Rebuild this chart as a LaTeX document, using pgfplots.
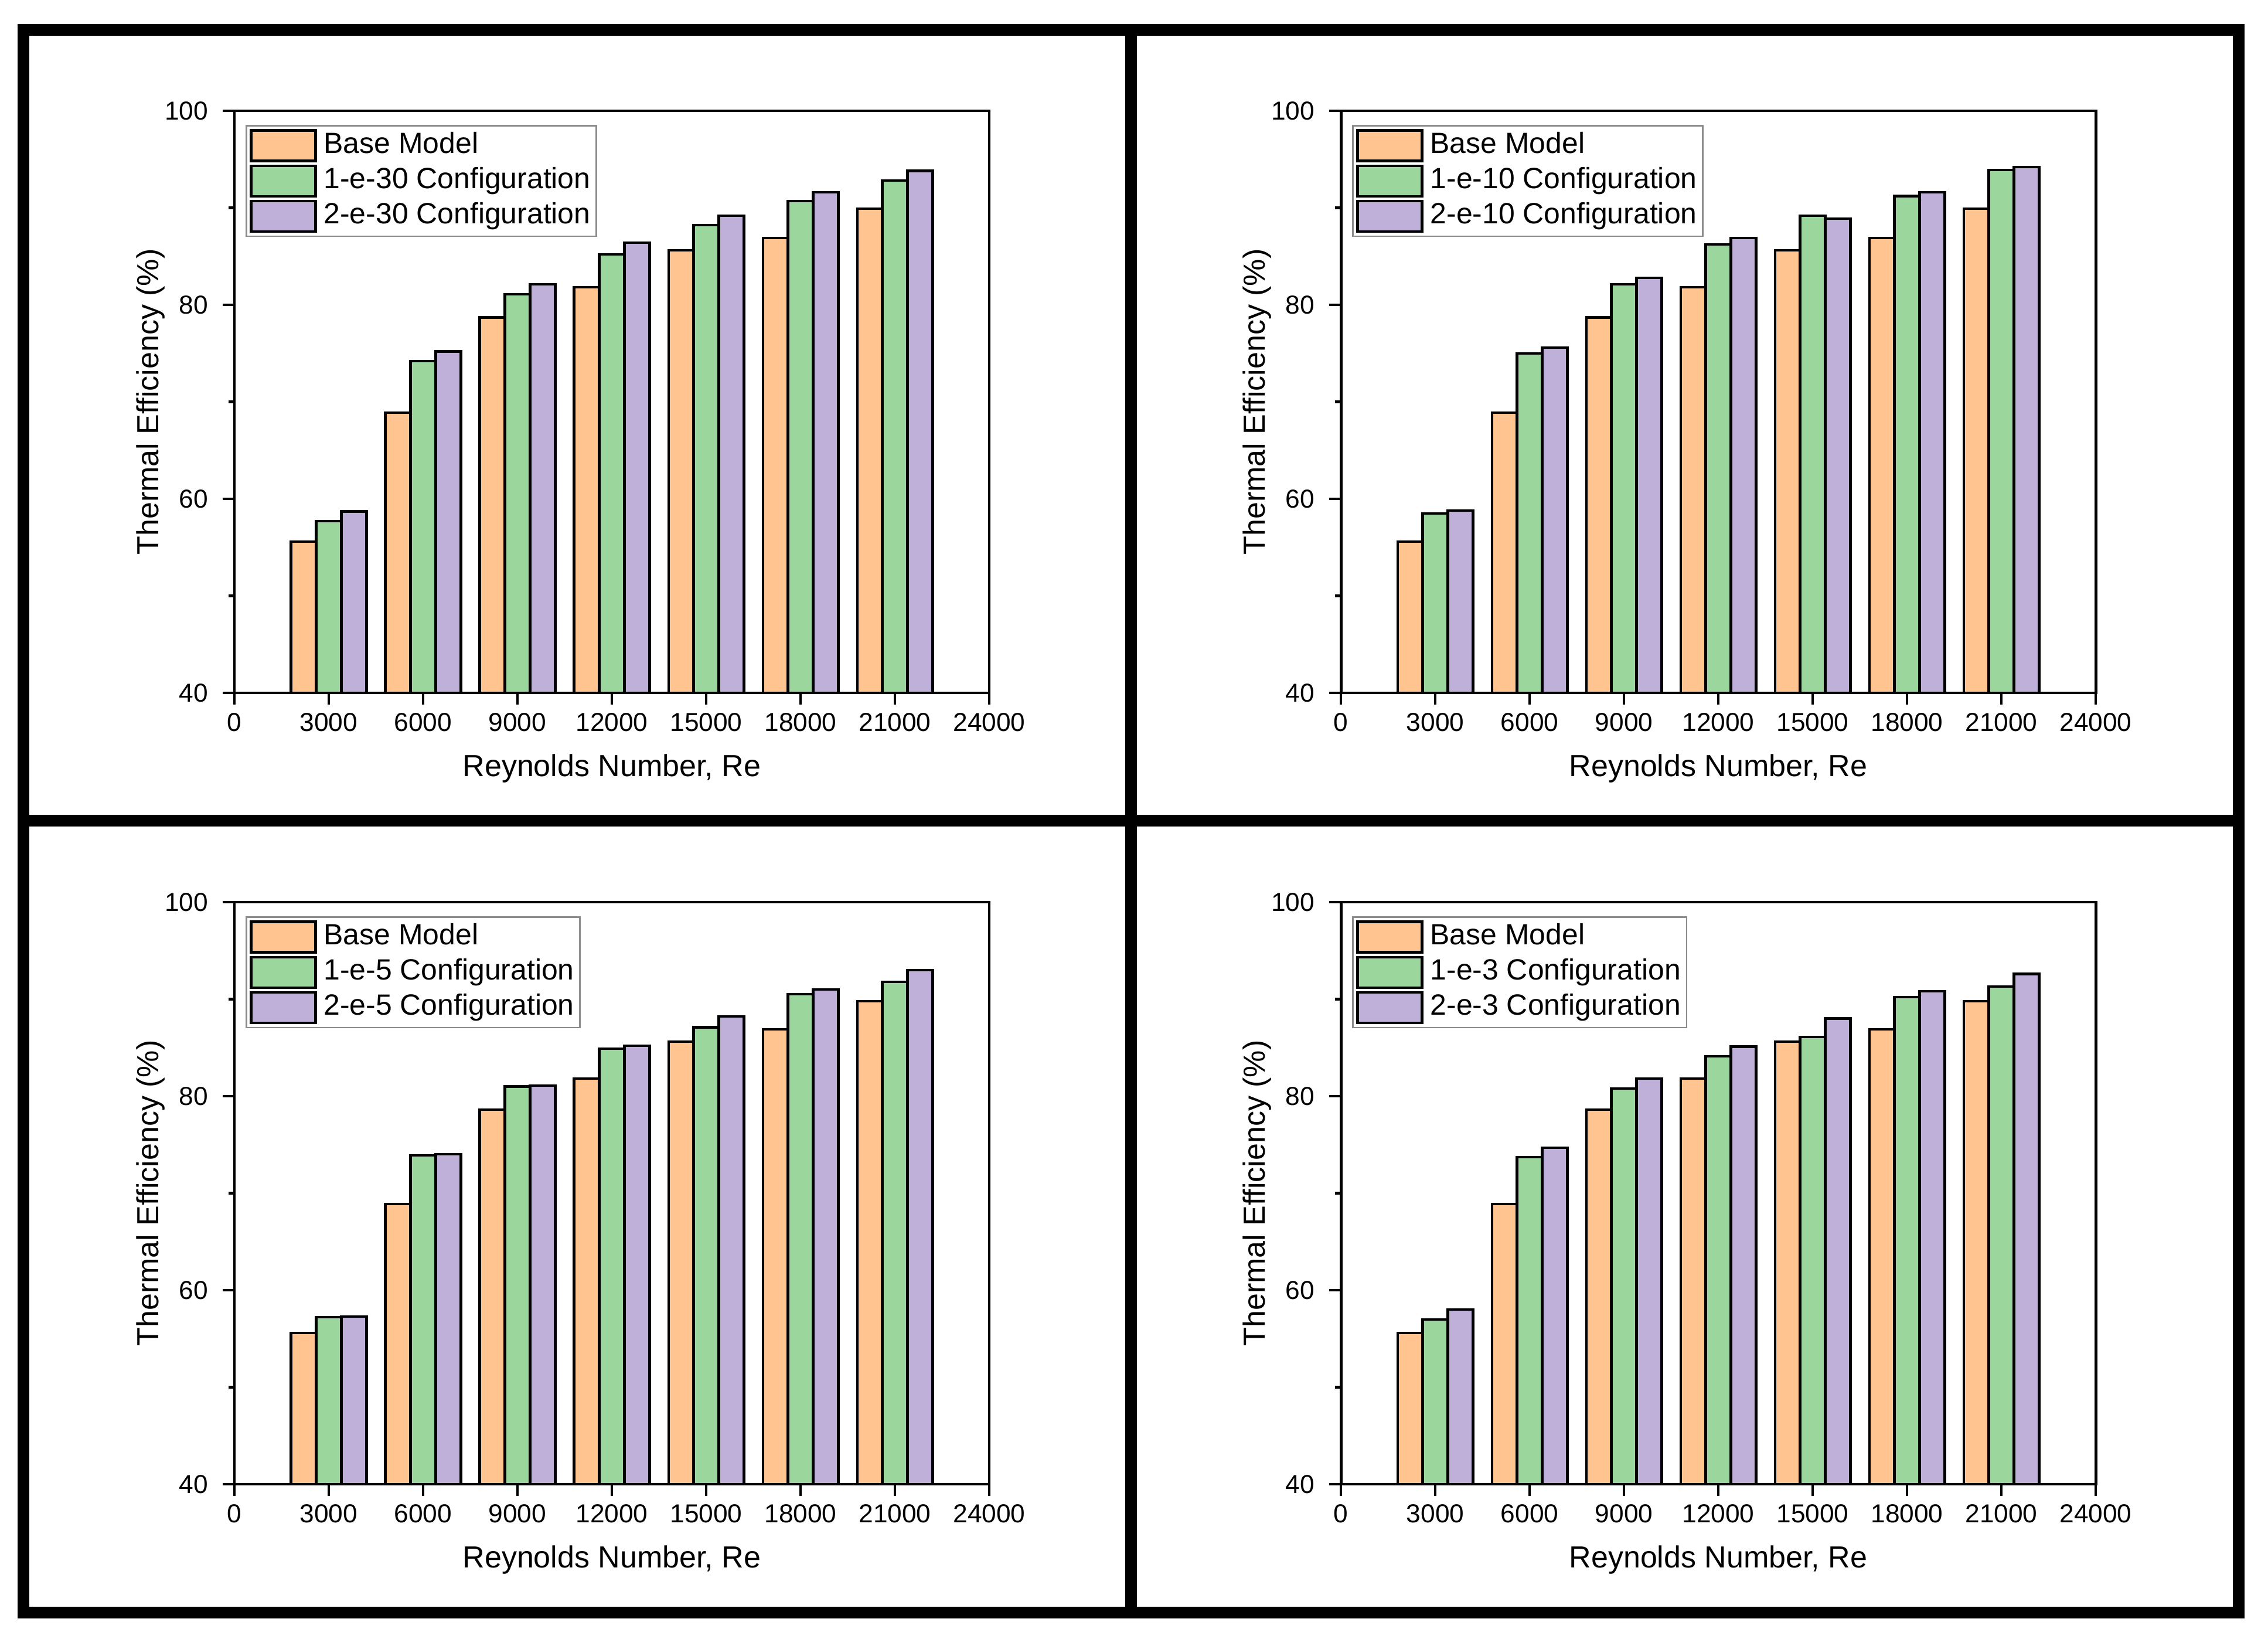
\documentclass[border=0pt]{standalone}
\usepackage{fontspec}
\setmainfont{Liberation Sans}
\usepackage{pgfplots}
\pgfplotsset{compat=1.18}

\definecolor{basec}{RGB}{255,196,144}
\definecolor{onec}{RGB}{155,214,157}
\definecolor{twoc}{RGB}{190,176,216}

\pgfplotsset{
  panel/.style={
    scale only axis, width=64.4mm, height=49.65mm, anchor=south west,
    xmin=0, xmax=24000, ymin=40, ymax=100,
    xtick={0,3000,...,24000}, ytick={40,60,80,100}, minor ytick={50,70,90},
    scaled x ticks=false,
    /pgf/number format/assume math mode=true,
    /pgf/number format/1000 sep={},
    tick align=outside, tick pos=left,
    major tick length=1mm, minor tick length=0.5mm,
    tick style={black, line width=0.6pt},
    axis line style={line width=0.7pt},
    tick label style={font=\fontsize{6.3}{7}\selectfont},
    x tick label style={yshift=0.5mm},
    label style={font=\fontsize{7.4}{9}\selectfont},
    xlabel={Reynolds Number, Re},
    ylabel={Thermal Efficiency (\%)},
    xlabel style={at={(axis description cs:0.5,-0.144)}, anchor=base},
    ylabel style={at={(axis description cs:-0.111,0.5)}, anchor=center},
    ybar, bar width=800,
    legend cell align=left,
    legend style={at={(0,1)}, anchor=north west, xshift=0.95mm, yshift=-1.2mm,
      draw=black!45, line width=0.4pt, font=\fontsize{7.1}{8}\selectfont,
      inner xsep=0.3mm, inner ysep=0.3mm, row sep=0.2mm,
      nodes={inner sep=0.2mm},
      /tikz/every odd column/.append style={column sep=0.4mm}},
    legend image code/.code={\draw[#1] (0mm,-1.3mm) rectangle (5.5mm,1.3mm);},
  },
  basebar/.style={draw=black, line width=0.6pt, fill=basec},
  onebar/.style={draw=black, line width=0.6pt, fill=onec},
  twobar/.style={draw=black, line width=0.6pt, fill=twoc},
}

\begin{document}
\begin{tikzpicture}
\path[use as bounding box] (0,0) rectangle (193.5mm,140.35mm);

% top left
\begin{axis}[panel, at={(20mm,81.25mm)}]
\addplot[basebar, bar shift=-800] coordinates {(3000,55.6) (6000,68.9) (9000,78.7) (12000,81.8) (15000,85.6) (18000,86.9) (21000,89.9)};
\addplot[onebar, bar shift=0] coordinates {(3000,57.7) (6000,74.2) (9000,81.1) (12000,85.2) (15000,88.2) (18000,90.7) (21000,92.8)};
\addplot[twobar, bar shift=800] coordinates {(3000,58.7) (6000,75.2) (9000,82.1) (12000,86.4) (15000,89.2) (18000,91.6) (21000,93.8)};
\legend{Base Model, 1-e-30 Configuration, 2-e-30 Configuration}
\end{axis}

% top right
\begin{axis}[panel, at={(114.4mm,81.25mm)}]
\addplot[basebar, bar shift=-800] coordinates {(3000,55.6) (6000,68.9) (9000,78.7) (12000,81.8) (15000,85.6) (18000,86.9) (21000,89.9)};
\addplot[onebar, bar shift=0] coordinates {(3000,58.5) (6000,75.0) (9000,82.1) (12000,86.2) (15000,89.2) (18000,91.2) (21000,93.9)};
\addplot[twobar, bar shift=800] coordinates {(3000,58.8) (6000,75.6) (9000,82.8) (12000,86.9) (15000,88.9) (18000,91.6) (21000,94.2)};
\legend{Base Model, 1-e-10 Configuration, 2-e-10 Configuration}
\end{axis}

% bottom left
\begin{axis}[panel, at={(20mm,13.75mm)}]
\addplot[basebar, bar shift=-800] coordinates {(3000,55.6) (6000,68.9) (9000,78.6) (12000,81.8) (15000,85.6) (18000,86.9) (21000,89.8)};
\addplot[onebar, bar shift=0] coordinates {(3000,57.2) (6000,73.9) (9000,81.0) (12000,84.9) (15000,87.1) (18000,90.5) (21000,91.8)};
\addplot[twobar, bar shift=800] coordinates {(3000,57.3) (6000,74.0) (9000,81.1) (12000,85.2) (15000,88.2) (18000,91.0) (21000,93.0)};
\legend{Base Model, 1-e-5 Configuration, 2-e-5 Configuration}
\end{axis}

% bottom right
\begin{axis}[panel, at={(114.4mm,13.75mm)}]
\addplot[basebar, bar shift=-800] coordinates {(3000,55.6) (6000,68.9) (9000,78.6) (12000,81.8) (15000,85.6) (18000,86.9) (21000,89.8)};
\addplot[onebar, bar shift=0] coordinates {(3000,57.0) (6000,73.7) (9000,80.8) (12000,84.1) (15000,86.1) (18000,90.2) (21000,91.3)};
\addplot[twobar, bar shift=800] coordinates {(3000,58.0) (6000,74.7) (9000,81.8) (12000,85.1) (15000,88.0) (18000,90.8) (21000,92.6)};
\legend{Base Model, 1-e-3 Configuration, 2-e-3 Configuration}
\end{axis}

% panel frames
\draw[line width=1mm] (2mm,2.8mm) rectangle (191mm,137.8mm);
\draw[line width=1mm] (96.5mm,2.8mm) -- (96.5mm,137.8mm);
\draw[line width=1mm] (2mm,70.35mm) -- (191mm,70.35mm);
\end{tikzpicture}
\end{document}
